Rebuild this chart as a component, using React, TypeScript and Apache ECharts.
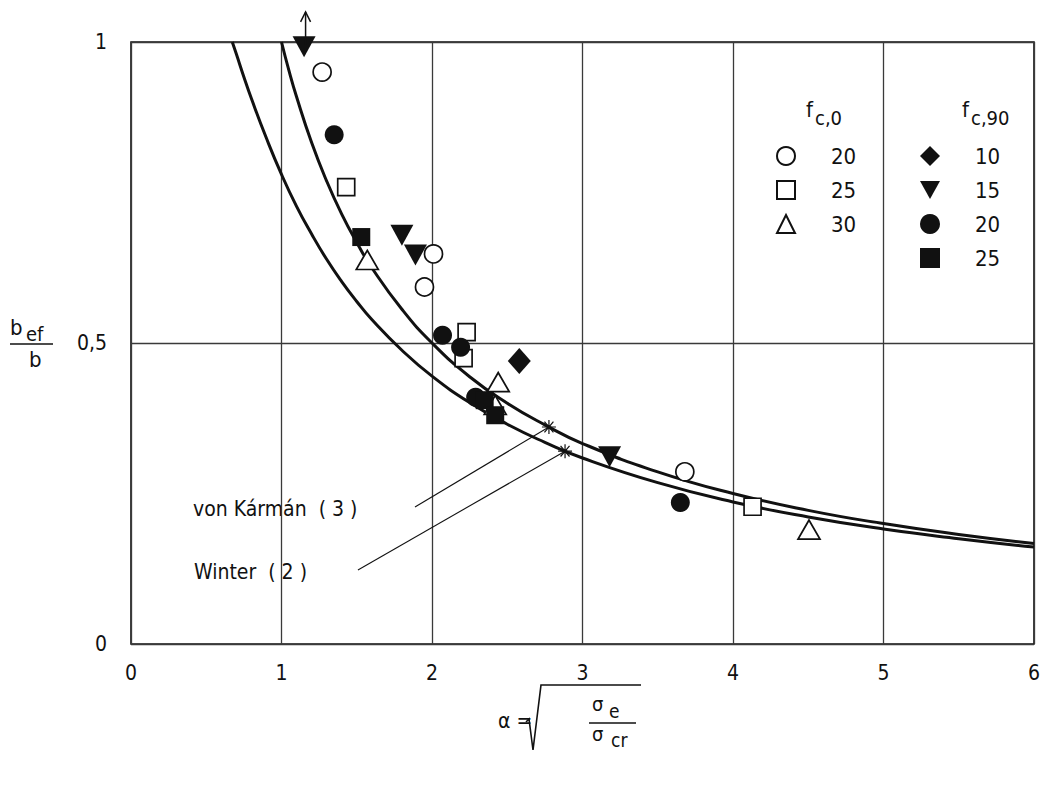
import React, { useEffect, useRef } from "react";
import * as echarts from "echarts";

// Curves (alpha, b_ef/b)
const KARMAN_ALPHA = [1.0, 1.05, 1.1, 1.2, 1.3, 1.4, 1.5, 1.6, 1.8, 2.0, 2.25, 2.5, 2.75, 3.0, 3.5, 4.0, 4.5, 5.0, 5.5, 6.0];
const KARMAN_VAL = [1.0, 0.952, 0.909, 0.833, 0.769, 0.714, 0.667, 0.625, 0.556, 0.5, 0.444, 0.4, 0.364, 0.333, 0.286, 0.25, 0.222, 0.2, 0.182, 0.167];
const WINTER_ALPHA = [0.673, 0.7, 0.75, 0.8, 0.9, 1.0, 1.1, 1.2, 1.3, 1.4, 1.5, 1.6, 1.8, 2.0, 2.25, 2.5, 2.75, 3.0, 3.5, 4.0, 4.5, 5.0, 5.5, 6.0];
const WINTER_VAL = [1.0, 0.98, 0.942, 0.906, 0.84, 0.78, 0.727, 0.681, 0.639, 0.602, 0.569, 0.539, 0.488, 0.445, 0.401, 0.365, 0.335, 0.309, 0.268, 0.236, 0.211, 0.191, 0.175, 0.161];

// Test points [alpha, b_ef/b]
const FC0_20 = [[1.27, 0.95], [2.01, 0.648], [1.95, 0.593], [3.68, 0.286]];
const FC0_25 = [[1.43, 0.759], [2.23, 0.518], [2.21, 0.475], [4.13, 0.228]];
const FC0_30 = [[1.57, 0.638], [2.44, 0.435], [2.42, 0.397], [4.505, 0.19]];
const FC90_10 = [[2.58, 0.47]];
const FC90_15 = [[1.15, 0.992], [1.8, 0.679], [1.89, 0.646], [3.18, 0.311]];
const FC90_20 = [[1.35, 0.846], [2.07, 0.513], [2.19, 0.493], [2.29, 0.41], [3.65, 0.235]];
const FC90_25 = [[1.53, 0.676], [2.35, 0.405], [2.42, 0.38]];

// Annotation leader lines: [label end, point on curve]
const KARMAN_LEADER = [[1.887, 0.2276], [2.777, 0.3605]];
const WINTER_LEADER = [[1.508, 0.123], [2.884, 0.3203]];
// Arrow above the off-scale point
const ARROW = [[1.16, 0.995], [1.16, 1.05]];

const X_TICKS = ["0", "1", "2", "3", "4", "5", "6"];
const Y_TICKS: Record<string, string> = { "0": "0", "0.5": "0,5", "1": "1" };

const FONT = "'DejaVu Sans Condensed', 'DejaVu Sans', sans-serif";
const INK = "#111111";

const zip = (a: number[], b: number[]) => a.map((v, i) => [v, b[i]]);

const STAR = "path://M0 5L10 5M5 0L5 10M1.8 1.2L8.2 8.8M8.2 1.2L1.8 8.8";
const CHEVRON = "path://M0 10L5 0L10 10";
const INV_TRIANGLE = "path://M0 0L10 0L5 9Z";

export default function App() {
  const ref = useRef<HTMLDivElement>(null);

  useEffect(() => {
    if (!ref.current) return;
    const chart = echarts.init(ref.current, null, { renderer: "svg" });

    const open = { color: "#fff", borderColor: INK, borderWidth: 1.7, opacity: 1 };
    const filled = { color: INK, borderColor: INK, borderWidth: 0, opacity: 1 };

    const scatter = (name: string, data: number[][], symbol: string, size: any, style: any) => ({
      name,
      type: "scatter",
      data,
      symbol,
      symbolSize: size,
      itemStyle: style,
      z: 5,
      silent: true,
    });

    const leader = (pts: number[][]) => ({
      type: "line",
      data: [
        { value: pts[0], symbol: "none" },
        { value: pts[1], symbol: STAR, symbolSize: 14 },
      ],
      showSymbol: true,
      lineStyle: { color: INK, width: 1.1 },
      itemStyle: { color: INK, borderColor: INK, borderWidth: 1.2, opacity: 1 },
      z: 4,
      silent: true,
    });

    const legendText = {
      fontFamily: FONT,
      fontSize: 22,
      color: INK,
      lineHeight: 22,
      rich: { g: { width: 31 } },
    };

    const option: any = {
      animation: false,
      backgroundColor: "#fff",
      grid: {
        left: 131,
        right: 10,
        top: 42,
        bottom: 145,
        show: true,
        borderColor: INK,
        borderWidth: 1.6,
        backgroundColor: "transparent",
      },
      xAxis: {
        type: "value",
        min: 0,
        max: 6,
        interval: 1,
        axisLine: { show: false },
        axisTick: { show: false },
        splitLine: { show: true, lineStyle: { color: "#3a3a3a", width: 1.3 } },
        axisLabel: {
          fontFamily: FONT,
          fontSize: 21,
          color: INK,
          margin: 18,
          formatter: (v: number) => X_TICKS[Math.round(v)] ?? "",
        },
      },
      yAxis: {
        type: "value",
        min: 0,
        max: 1,
        interval: 0.5,
        axisLine: { show: false },
        axisTick: { show: false },
        splitLine: { show: true, lineStyle: { color: "#3a3a3a", width: 1.3 } },
        axisLabel: {
          fontFamily: FONT,
          fontSize: 21,
          color: INK,
          margin: 24,
          formatter: (v: number) => Y_TICKS[String(v)] ?? "",
        },
      },
      legend: [
        {
          orient: "vertical",
          left: 771,
          top: 140,
          itemWidth: 18,
          itemHeight: 18,
          itemGap: 12,
          selectedMode: false,
          data: ["f_c,0 = 20", "f_c,0 = 25", "f_c,0 = 30"],
          formatter: (n: string) => "{g|}" + n.split("= ")[1],
          textStyle: legendText,
        },
        {
          orient: "vertical",
          left: 915,
          top: 140,
          itemWidth: 20,
          itemHeight: 20,
          itemGap: 12,
          selectedMode: false,
          data: ["f_c,90 = 10", "f_c,90 = 15", "f_c,90 = 20", "f_c,90 = 25"],
          formatter: (n: string) => "{g|}" + n.split("= ")[1],
          textStyle: { ...legendText, rich: { g: { width: 30 } } },
        },
      ],
      graphic: [
        // y-axis title b_ef / b
        { type: "text", left: 10, top: 316, style: { text: "b", font: `22px ${FONT}`, fill: INK } },
        { type: "text", left: 26, top: 324, style: { text: "ef", font: `20px ${FONT}`, fill: INK } },
        { type: "line", shape: { x1: 10, y1: 344, x2: 53, y2: 344 }, style: { stroke: INK, lineWidth: 1.6 } },
        { type: "text", left: 29, top: 348, style: { text: "b", font: `22px ${FONT}`, fill: INK } },
        // x-axis title alpha = sqrt(sigma_e / sigma_cr)
        { type: "text", left: 498, top: 710, style: { text: "α =", font: `21px ${FONT}`, fill: INK } },
        {
          type: "polyline",
          shape: { points: [[526, 722], [529, 719], [533, 750], [541, 685], [641, 685]] },
          style: { stroke: INK, lineWidth: 1.6, fill: "none" },
        },
        { type: "text", left: 592, top: 694, style: { text: "σ", font: `20px ${FONT}`, fill: INK } },
        { type: "text", left: 609, top: 701, style: { text: "e", font: `19px ${FONT}`, fill: INK } },
        { type: "line", shape: { x1: 589, y1: 723, x2: 636, y2: 723 }, style: { stroke: INK, lineWidth: 1.5 } },
        { type: "text", left: 592, top: 724, style: { text: "σ", font: `20px ${FONT}`, fill: INK } },
        { type: "text", left: 611, top: 730, style: { text: "cr", font: `19px ${FONT}`, fill: INK } },
        // legend headers
        { type: "text", left: 806, top: 98, style: { text: "f", font: `22px ${FONT}`, fill: INK } },
        { type: "text", left: 815, top: 108, style: { text: "c,0", font: `20px ${FONT}`, fill: INK } },
        { type: "text", left: 962, top: 98, style: { text: "f", font: `22px ${FONT}`, fill: INK } },
        { type: "text", left: 971, top: 108, style: { text: "c,90", font: `20px ${FONT}`, fill: INK } },
        // curve labels
        { type: "text", left: 193, top: 498, style: { text: "von Kármán  ( 3 )", font: `21px ${FONT}`, fill: INK } },
        { type: "text", left: 194, top: 561, style: { text: "Winter  ( 2 )", font: `21px ${FONT}`, fill: INK } },
      ],
      series: [
        {
          name: "Winter (2)",
          type: "line",
          data: zip(WINTER_ALPHA, WINTER_VAL),
          smooth: true,
          showSymbol: false,
          lineStyle: { color: INK, width: 3 },
          z: 3,
          silent: true,
        },
        {
          name: "von Kármán (3)",
          type: "line",
          data: zip(KARMAN_ALPHA, KARMAN_VAL),
          smooth: true,
          showSymbol: false,
          lineStyle: { color: INK, width: 3 },
          z: 3,
          silent: true,
        },
        leader(KARMAN_LEADER),
        leader(WINTER_LEADER),
        {
          type: "line",
          clip: false,
          data: [
            { value: ARROW[0], symbol: "none" },
            { value: ARROW[1], symbol: CHEVRON, symbolSize: [10, 10], symbolOffset: [0, 5] },
          ],
          showSymbol: true,
          lineStyle: { color: INK, width: 1.5 },
          itemStyle: { color: "none", borderColor: INK, borderWidth: 1.5, opacity: 1 },
          z: 6,
          silent: true,
        },
        scatter("f_c,0 = 20", FC0_20, "circle", 18, open),
        scatter("f_c,0 = 25", FC0_25, "rect", 17, open),
        scatter("f_c,0 = 30", FC0_30, "triangle", [22, 19], open),
        scatter("f_c,90 = 10", FC90_10, "diamond", [23, 26], filled),
        scatter("f_c,90 = 15", FC90_15, INV_TRIANGLE, [23, 21], filled),
        scatter("f_c,90 = 20", FC90_20, "circle", 19, filled),
        scatter("f_c,90 = 25", FC90_25, "rect", 18, filled),
      ],
    };

    chart.setOption(option);
    return () => chart.dispose();
  }, []);

  return (
    <div
      ref={ref}
      style={{ position: "fixed", left: 0, top: 0, width: 1044, height: 789, background: "#fff" }}
    />
  );
}
